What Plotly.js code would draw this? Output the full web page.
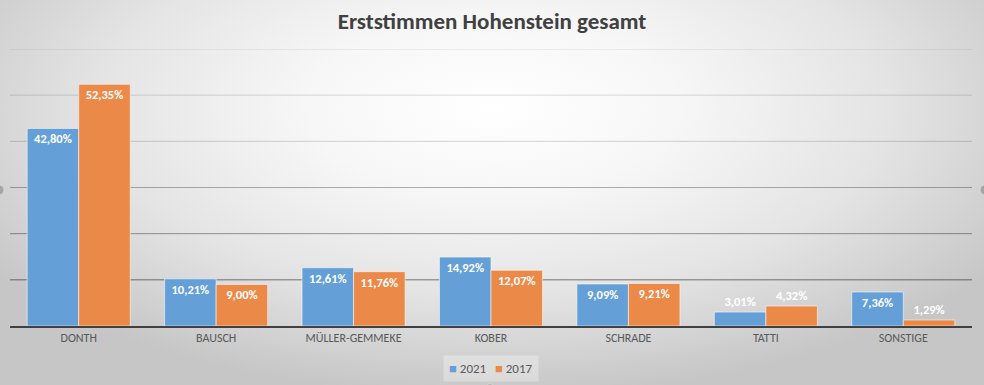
<!DOCTYPE html>
<html>
<head>
<meta charset="utf-8">
<script src="https://cdn.plot.ly/plotly-3.0.1.min.js"></script>
<style>
  html, body { margin: 0; padding: 0; }
  #chart {
    width: 984px; height: 385px;
    background: radial-gradient(ellipse 62% 75% at 50% 28%, #ffffff 0%, #f7f7f7 30%, #e4e4e4 65%, #c6c6c6 100%);
  }
</style>
</head>
<body>
<div id="chart"></div>
<script>
const categories = ["DONTH", "BAUSCH", "MÜLLER-GEMMEKE", "KOBER", "SCHRADE", "TATTI", "SONSTIGE"];
const values2021 = [42.80, 10.21, 12.61, 14.92, 9.09, 3.01, 7.36];
const values2017 = [52.35, 9.00, 11.76, 12.07, 9.21, 4.32, 1.29];
const seriesNames = ["2021", "2017"];
const seriesColors = ["#649FD8", "#EB8948"];
const gridValues = [10, 20, 30, 40, 50, 60];
const gridAlpha = [0.50, 0.38, 0.30, 0.17, 0.14, 0.11];

const fmt = v => v.toFixed(2).replace('.', ',') + '%';
const FONT = "Carlito, Lato, 'Open Sans', sans-serif";

function barTrace(name, vals, color) {
  const tf = { family: FONT, size: 12.5, color: '#ffffff', weight: 'bold' };
  return {
    type: 'bar', name: name, x: categories, y: vals,
    marker: { color: color, line: { color: 'rgba(255,255,255,0.55)', width: 1 } },
    text: vals.map(fmt), textposition: 'auto', insidetextanchor: 'end', textangle: 0,
    textfont: tf, outsidetextfont: tf, insidetextfont: tf,
    cliponaxis: false, hoverinfo: 'skip'
  };
}

const data = [
  barTrace(seriesNames[0], values2021, seriesColors[0]),
  barTrace(seriesNames[1], values2017, seriesColors[1])
];

const shapes = gridValues.map((g, i) => ({
  type: 'line', xref: 'paper', yref: 'y', x0: 0, x1: 1, y0: g, y1: g,
  line: { color: 'rgba(0,0,0,' + gridAlpha[i] + ')', width: 1 }, layer: 'below'
}));

function handle(px, py) {
  return { type: 'circle', xref: 'paper', yref: 'paper', xsizemode: 'pixel', ysizemode: 'pixel',
    xanchor: px, yanchor: py, x0: -5, x1: 5, y0: -5, y1: 5,
    fillcolor: 'rgba(120,120,120,0.5)', line: { color: 'rgba(220,220,220,0.8)', width: 1 } };
}
shapes.push(handle(-0.0114, 0.491), handle(1.0135, 0.491), handle(0.499, -0.227));

const legendText = seriesNames.map((n, i) =>
  "<span style='color:" + seriesColors[i] + "'>■</span> " + n).join("   ");

const layout = {
  width: 984, height: 385,
  margin: { l: 10, r: 12, t: 49, b: 59, autoexpand: false },
  paper_bgcolor: 'rgba(0,0,0,0)', plot_bgcolor: 'rgba(0,0,0,0)',
  font: { family: FONT, color: '#595959' },
  title: { text: 'Erststimmen Hohenstein gesamt', x: 0.5, xanchor: 'center', y: 0.945, yanchor: 'middle',
    font: { family: FONT, size: 23, color: '#404040', weight: 'bold' } },
  barmode: 'group', bargap: 0.25, bargroupgap: 0,
  xaxis: { showline: true, linecolor: '#404040', linewidth: 2, ticks: '', showgrid: false,
    tickfont: { family: FONT, size: 12, color: '#595959' }, fixedrange: true },
  yaxis: { range: [0, 60], showgrid: false, zeroline: false, showticklabels: false, fixedrange: true },
  showlegend: false,
  annotations: [{
    xref: 'paper', yref: 'paper', x: 0.5, y: -0.152, xanchor: 'center', yanchor: 'middle',
    text: legendText, showarrow: false, bgcolor: 'rgba(255,255,255,0.3)', borderpad: 5,
    font: { family: FONT, size: 13, color: '#595959' }
  }],
  shapes: shapes
};

Plotly.newPlot('chart', data, layout, { displayModeBar: false, staticPlot: true });
</script>
</body>
</html>
